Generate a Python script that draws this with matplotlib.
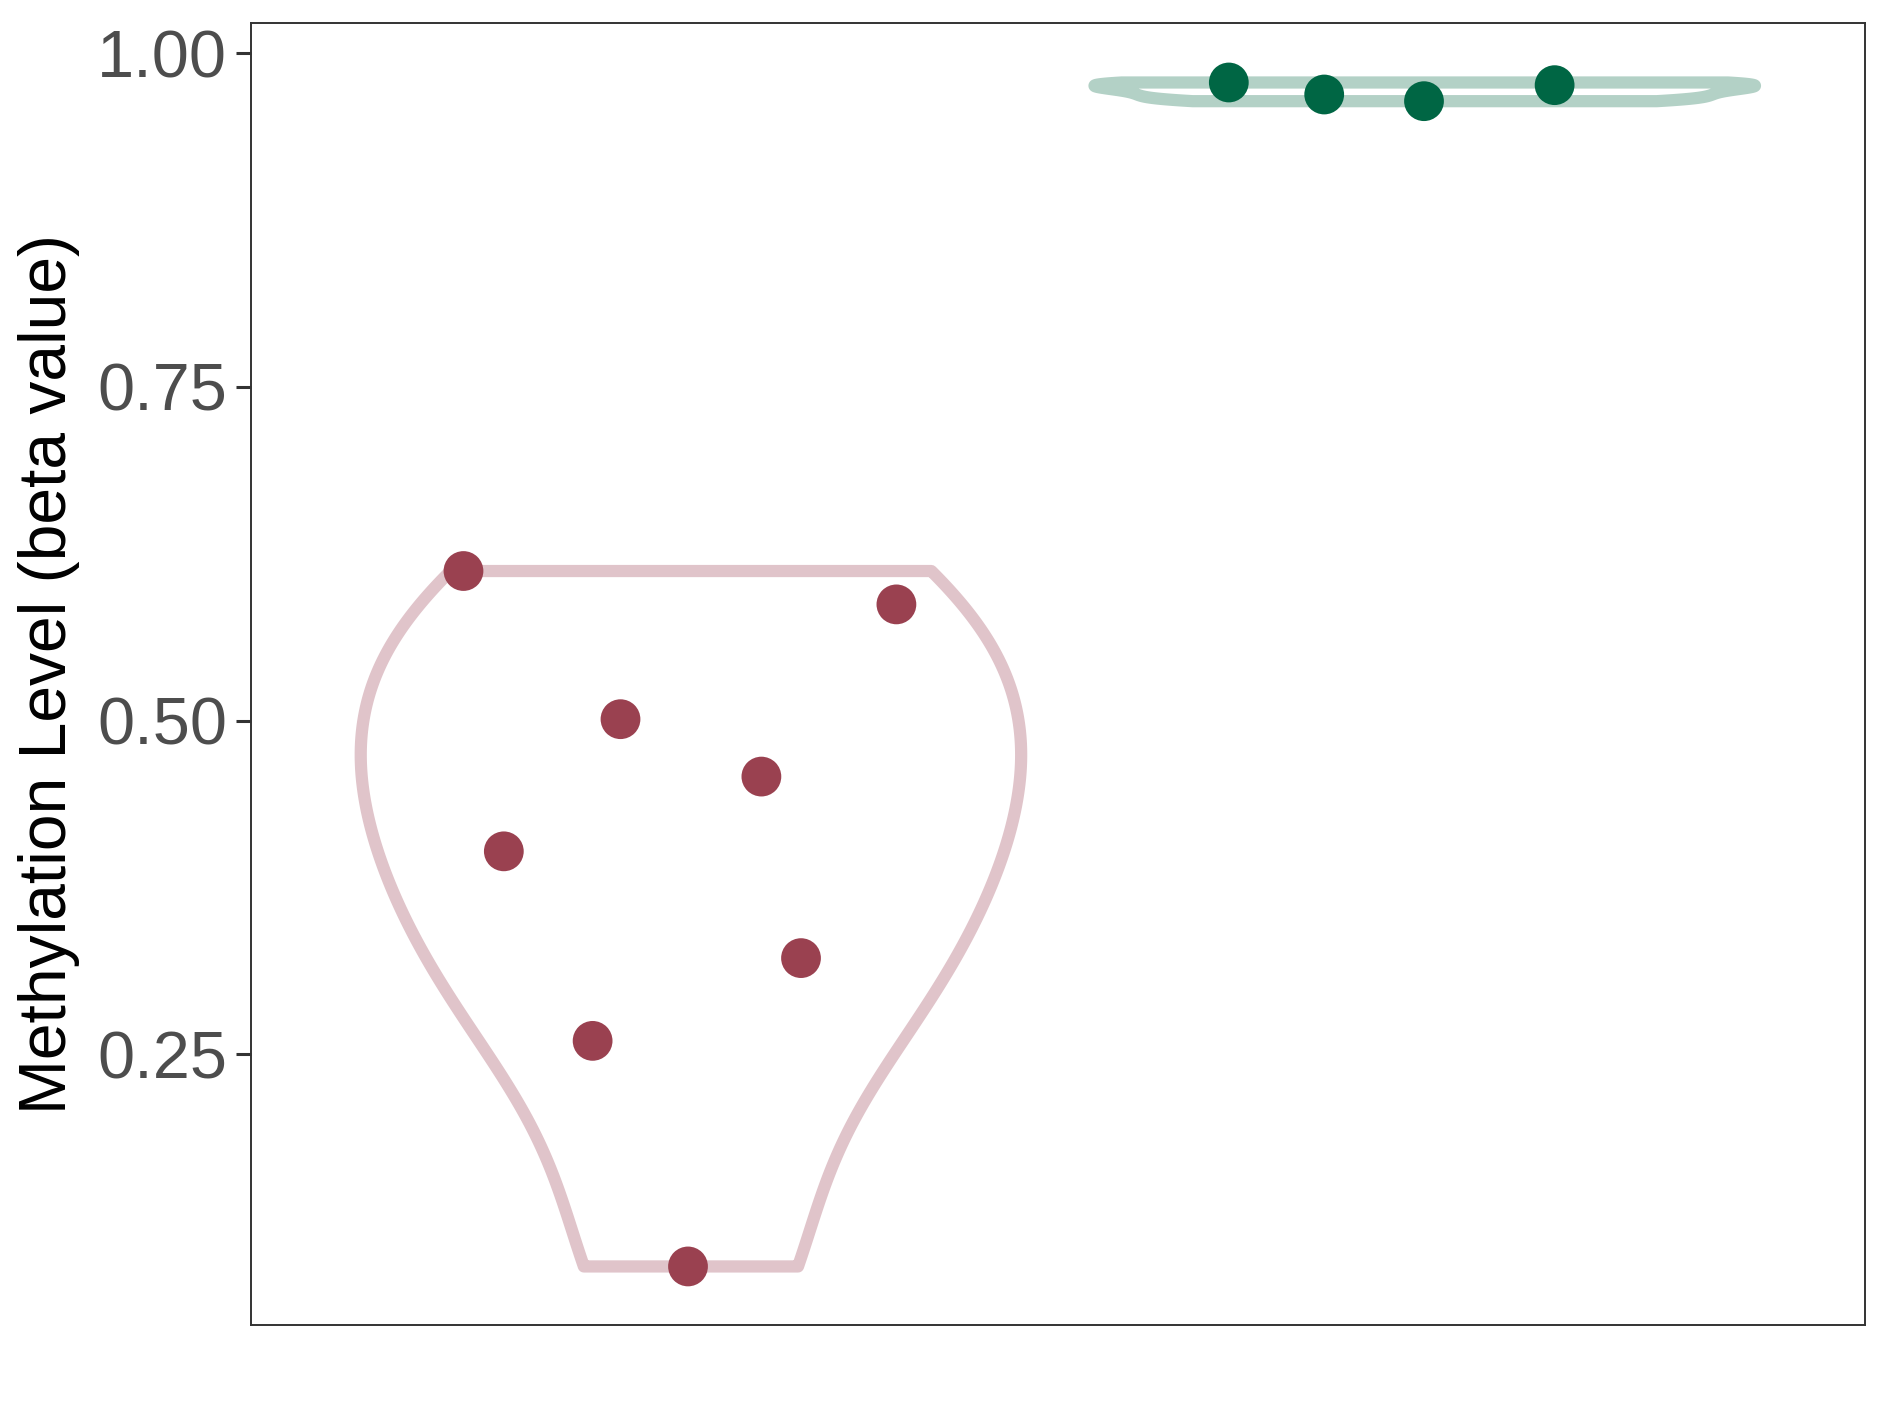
import numpy as np
import matplotlib
matplotlib.use("Agg")
import matplotlib.pyplot as plt

# data
groups = ["A", "B"]
vals_a = [0.612, 0.587, 0.501, 0.458, 0.402, 0.322, 0.260, 0.091]
jit_a = [-0.31, 0.28, -0.096, 0.096, -0.255, 0.150, -0.134, -0.004]
vals_b = [0.978, 0.969, 0.964, 0.976]
jit_b = [-0.267, -0.137, -0.001, 0.177]

line_cols = ["#E0C4CA", "#B3D1C6"]
pt_cols = ["#9A4150", "#006644"]

plt.rcParams['font.family'] = ['Liberation Sans', 'DejaVu Sans']


def bw_nrd0(x):
    x = np.asarray(x)
    sd = np.std(x, ddof=1)
    iqr = np.subtract(*np.percentile(x, [75, 25]))
    lo = min(sd, iqr / 1.34) if iqr > 0 else sd
    return 0.9 * lo * len(x) ** -0.2


def violin_outline(vals, pos, width=0.9):
    x = np.asarray(vals)
    bw = bw_nrd0(x)
    grid = np.linspace(x.min(), x.max(), 512)
    dens = np.exp(-0.5 * ((grid[:, None] - x[None, :]) / bw) ** 2).sum(axis=1)
    half = dens / dens.max() * width / 2
    xs = np.concatenate([pos - half, (pos + half)[::-1], [pos - half[0]]])
    ys = np.concatenate([grid, grid[::-1], [grid[0]]])
    return xs, ys


fig = plt.figure(figsize=(18.89, 14.17), dpi=100)
ax = fig.add_axes([0.1327, 0.0648, 0.9873 - 0.1327, 0.9838 - 0.0648])

for i, (vals, jit) in enumerate([(vals_a, jit_a), (vals_b, jit_b)]):
    pos = i + 1
    xs, ys = violin_outline(vals, pos)
    ax.fill(xs, ys, facecolor="white", edgecolor=line_cols[i], linewidth=8.8,
            joinstyle="round", zorder=2)
    ax.scatter(pos + np.array(jit), vals, s=820, color=pt_cols[i],
               edgecolors="none", zorder=3)

ax.set_xlim(0.4, 2.6)
ax.set_ylim(0.047, 1.0226)
ax.set_yticks([0.25, 0.50, 0.75, 1.00])
ax.set_yticklabels(["0.25", "0.50", "0.75", "1.00"])
ax.set_xticks([])
ax.tick_params(axis="y", length=11, width=2.2, color="#333333",
               labelsize=48, labelcolor="#4D4D4D", pad=6)
for sp in ax.spines.values():
    sp.set_color("#333333")
    sp.set_linewidth(1.4)
ax.set_ylabel("Methylation Level (beta value)", fontsize=47.5, color="black",
              labelpad=12)

fig.savefig("out.png", dpi=100, facecolor="white")
